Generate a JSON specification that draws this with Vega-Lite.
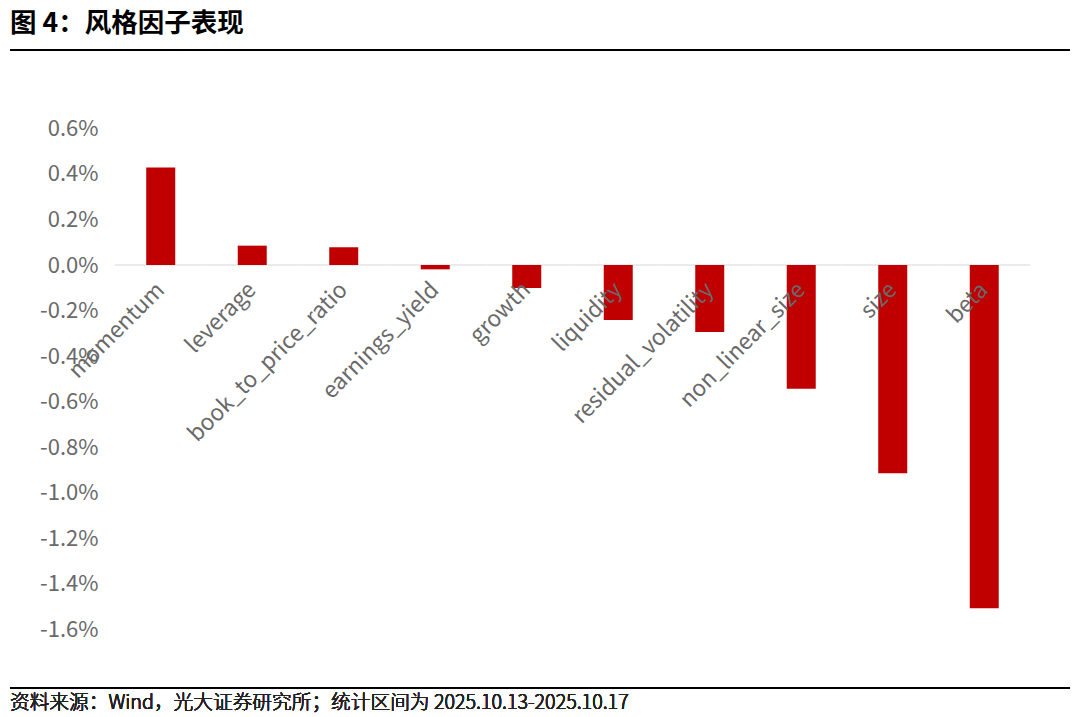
{
  "$schema": "https://vega.github.io/schema/vega-lite/v6.json",
  "width": 1060,
  "height": 638,
  "autosize": {"type": "none"},
  "padding": {"left": 10, "top": 50, "right": 10, "bottom": 29},
  "background": "white",
  "title": {
    "text": "图 4：风格因子表现",
    "anchor": "start",
    "frame": "group",
    "font": "Noto Sans CJK SC",
    "fontSize": 26.5,
    "fontWeight": "bold",
    "color": "#000000",
    "offset": 12
  },
  "config": {"view": {"stroke": null}, "font": "Noto Sans CJK SC"},
  "data": {
    "values": [
      {"factor": "momentum", "value": 0.00428},
      {"factor": "leverage", "value": 0.00085},
      {"factor": "book_to_price_ratio", "value": 0.00078},
      {"factor": "earnings_yield", "value": -0.00019},
      {"factor": "growth", "value": -0.00101},
      {"factor": "liquidity", "value": -0.00241},
      {"factor": "residual_volatility", "value": -0.00294},
      {"factor": "non_linear_size", "value": -0.00543},
      {"factor": "size", "value": -0.00914},
      {"factor": "beta", "value": -0.01507}
    ]
  },
  "layer": [
    {
      "mark": {"type": "tick", "color": "#d9d9d9", "thickness": 1.5, "size": 92},
      "encoding": {
        "x": {
          "field": "factor",
          "type": "nominal",
          "sort": null,
          "scale": {"paddingInner": 0, "paddingOuter": 0.7923, "align": 0.7241},
          "axis": {
            "orient": "bottom",
            "offset": -423,
            "zindex": 2,
            "domain": false,
            "ticks": false,
            "tickSize": 0,
            "grid": false,
            "labelAngle": -45,
            "labelAlign": "right",
            "labelBaseline": "middle",
            "labelPadding": 21,
            "labelFontSize": 22.5,
            "labelColor": "#696969",
            "labelOverlap": false,
            "labelBound": false,
            "labelLimit": 0,
            "title": null
          }
        },
        "y": {
          "datum": 0,
          "type": "quantitative",
          "scale": {"domain": [-0.01857, 0.00944], "nice": false, "zero": false},
          "axis": {
            "values": [-0.016, -0.014, -0.012, -0.01, -0.008, -0.006, -0.004, -0.002, 0, 0.002, 0.004, 0.006],
            "format": ".1%",
            "labelExpr": "replace(datum.label, '−', '-')",
            "offset": -88,
            "ticks": false,
            "tickSize": 0,
            "domain": false,
            "grid": false,
            "labelPadding": 0,
            "labelFontSize": 22,
            "labelColor": "#696969",
            "title": null
          }
        }
      }
    },
    {
      "mark": {"type": "bar", "color": "#c00000", "width": 29},
      "encoding": {
        "x": {"field": "factor", "type": "nominal", "sort": null},
        "y": {"field": "value", "type": "quantitative"}
      }
    },
    {
      "mark": {"type": "rule", "color": "#000000", "strokeWidth": 1.5},
      "encoding": {"y": {"datum": 0.00944, "type": "quantitative"}}
    },
    {
      "mark": {"type": "rule", "color": "#000000", "strokeWidth": 1.5},
      "encoding": {"y": {"datum": -0.01857, "type": "quantitative"}}
    },
    {
      "mark": {"type": "text", "align": "left", "baseline": "middle", "dy": 15, "fontSize": 19.7, "fontWeight": 300, "color": "#222222", "font": "Noto Sans CJK SC"},
      "encoding": {
        "x": {"value": 0},
        "y": {"datum": -0.01857, "type": "quantitative"},
        "text": {"value": "资料来源：Wind，光大证券研究所；统计区间为 2025.10.13-2025.10.17"}
      }
    }
  ]
}
